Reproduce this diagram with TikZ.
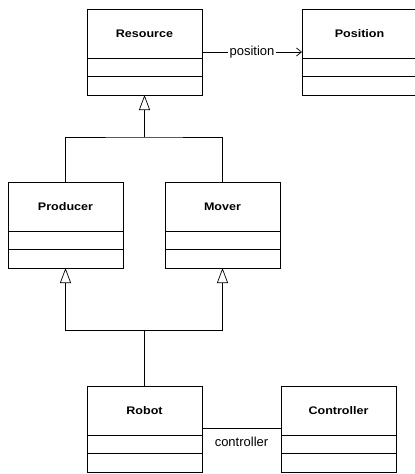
\documentclass[tikz,border=0pt]{standalone}
\usepackage{fontspec}
\setmainfont{Liberation Sans}
\newfontfamily\clsfont[FakeStretch=1.14]{Liberation Sans}
\usetikzlibrary{arrows.meta,calc}
\tikzset{
  comp/.style={draw, line width=0.9pt, minimum width=115pt, inner sep=0pt, outer sep=0pt, anchor=north west},
  namecomp/.style={comp, minimum height=49pt, font=\clsfont\bfseries\fontsize{11}{13}\selectfont},
  attrcomp/.style={comp, minimum height=18pt, anchor=north},
  opcomp/.style={comp, minimum height=19pt, anchor=north},
  conn/.style={line width=0.7pt},
  gen/.style={conn, -{Triangle[open, length=15pt, width=11pt, fill=white]}},
  nav/.style={conn, -{Straight Barb[length=5pt, width=8pt]}},
  lbl/.style={font=\fontsize{13}{15}\selectfont, inner sep=0pt}
}
\newcommand{\umlcls}[3]{%
  \node[namecomp] (#1-n) at (#2) {#3};
  \node[attrcomp] (#1-a) at (#1-n.south) {};
  \node[opcomp] (#1-b) at (#1-a.south) {};
}
\begin{document}
\begin{tikzpicture}[x=1pt, y=-1pt]
\useasboundingbox (0,0) rectangle (415,474);
\umlcls{res}{87,9}{Resource}
\umlcls{pos}{302,9}{Position}
\umlcls{pro}{8,182}{Producer}
\umlcls{mov}{165,182}{Mover}
\umlcls{rob}{87,386}{Robot}
\umlcls{con}{281,386}{Controller}
% association position
\draw[nav] ([yshift=-43pt]res-n.north east) -- ([yshift=-43pt]pos-n.north west)
  node[midway, lbl, fill=white, inner xsep=1.5pt] {position};
% generalization Producer/Mover -> Resource
\coordinate (j1) at ($(res-b.south)+(0,42)$);
\draw[conn] (pro-n.north) |- (j1) -| (mov-n.north);
\draw[gen] (j1) -- (res-b.south);
% generalization Robot -> Producer/Mover
\coordinate (j2) at ($(rob-n.north)+(0,-56)$);
\draw[conn] (rob-n.north) -- (j2);
\draw[gen] (j2) -| (pro-b.south);
\draw[gen] (j2) -| (mov-b.south);
% association controller
\draw[conn] ([yshift=7pt]rob-n.south east) -- ([yshift=7pt]con-n.south west)
  node[midway, lbl, below=9pt] {controller};
\end{tikzpicture}
\end{document}
